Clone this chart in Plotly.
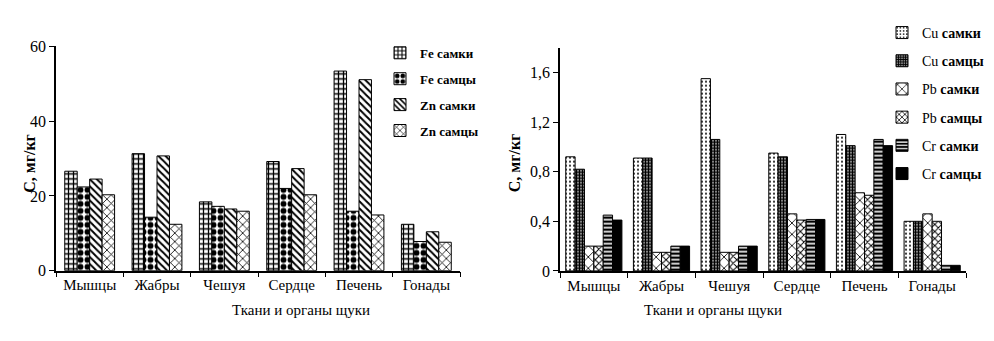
import plotly.graph_objects as go

categories = ["Мышцы", "Жабры", "Чешуя", "Сердце", "Печень", "Гонады"]

# Left chart (Fe, Zn), mg/kg
fe_f = [26.6, 31.3, 18.4, 29.2, 53.4, 12.4]
fe_m = [22.4, 14.3, 17.2, 22.0, 15.9, 7.8]
zn_f = [24.5, 30.7, 16.5, 27.3, 51.1, 10.4]
zn_m = [20.3, 12.4, 15.9, 20.3, 14.9, 7.6]

# Right chart (Cu, Pb, Cr), mg/kg
cu_f = [0.92, 0.91, 1.55, 0.95, 1.10, 0.40]
cu_m = [0.82, 0.91, 1.06, 0.92, 1.01, 0.40]
pb_f = [0.20, 0.15, 0.15, 0.46, 0.63, 0.46]
pb_m = [0.20, 0.15, 0.15, 0.41, 0.61, 0.40]
cr_f = [0.45, 0.20, 0.20, 0.415, 1.06, 0.045]
cr_m = [0.41, 0.20, 0.20, 0.415, 1.01, 0.045]

left_ticks = [0, 20, 40, 60]
right_tickvals = [0, 0.4, 0.8, 1.2, 1.6]
right_ticktext = ["0", "0,4", "0,8", "1,2", "1,6"]

FONT = "Liberation Serif"
W, H = 994, 341

fig = go.Figure()

def add_bar(name, vals, xa, ya, legend, group, shape, size, solidity, color="white",
            offset=None, width=None):
    marker = dict(color=color, line=dict(color="black", width=1))
    if shape is not None:
        marker["pattern"] = dict(shape=shape, size=size, solidity=solidity,
                                 fgcolor="black", bgcolor="white", fillmode="replace")
    kw = {}
    if offset is not None:
        kw = dict(offset=offset, width=width)
    fig.add_trace(go.Bar(x=categories, y=vals, name=name, xaxis=xa, yaxis=ya,
                         legend=legend, legendgroup=group, marker=marker, **kw))

add_bar("<b>Fe самки</b>", fe_f, "x", "y", "legend", "a1", "+", 5, 0.45)
add_bar("<b>Fe самцы</b>", fe_m, "x", "y", "legend", "a2", ".", 7, 0.55)
add_bar("<b>Zn самки</b>", zn_f, "x", "y", "legend", "a3", "\\", 5, 0.4)
add_bar("<b>Zn самцы</b>", zn_m, "x", "y", "legend", "a4", "x", 6, 0.25)

right_specs = [
    ("Cu <b>самки</b>", cu_f, "b1", ".", 4, 0.2, "white"),
    ("Cu <b>самцы</b>", cu_m, "b2", "+", 3, 0.8, "white"),
    ("Pb <b>самки</b>", pb_f, "b3", "x", 8, 0.2, "white"),
    ("Pb <b>самцы</b>", pb_m, "b4", "x", 5, 0.35, "white"),
    ("Cr <b>самки</b>", cr_f, "b5", "-", 4, 0.6, "white"),
    ("Cr <b>самцы</b>", cr_m, "b6", None, 0, 0, "black"),
]
n_right = len(right_specs)
group_w = 0.83
bw = group_w / n_right
for i, (nm, vals, grp, shp, sz, sol, col) in enumerate(right_specs):
    add_bar(nm, vals, "x2", "y2", "legend2", grp, shp, sz, sol, color=col,
            offset=-group_w / 2 + i * bw, width=bw)

def px_x(p):
    return p / W

def px_y(p):
    return 1 - p / H

xcommon = dict(type="category", showline=True, linecolor="black", linewidth=1.5,
               ticks="outside", tickson="boundaries", ticklen=5, tickcolor="black",
               showgrid=False, tickfont=dict(family=FONT, size=15, color="black"))
ycommon = dict(showline=True, linecolor="black", linewidth=1.5, ticks="outside",
               ticklen=5, tickcolor="black", showgrid=False, zeroline=False,
               tickfont=dict(family=FONT, size=16, color="black"))

fig.update_layout(
    width=W, height=H,
    margin=dict(l=0, r=0, t=0, b=0),
    paper_bgcolor="white", plot_bgcolor="white",
    font=dict(family=FONT, color="black"),
    barmode="group",
    bargap=0.26, bargroupgap=0,
    xaxis=dict(**xcommon, anchor="y", domain=[px_x(48), px_x(452)]),
    yaxis=dict(**ycommon, anchor="x", domain=[px_y(268), px_y(32)],
               range=[0, 60], tickvals=left_ticks),
    xaxis2=dict(**xcommon, anchor="y2", domain=[px_x(552), px_x(958)]),
    yaxis2=dict(**ycommon, anchor="x2", domain=[px_y(268.3), px_y(33.3)],
                range=[0, 1.8], tickvals=right_tickvals, ticktext=right_ticktext),
    legend=dict(x=px_x(372), y=px_y(23), xanchor="left", yanchor="top",
                font=dict(family=FONT, size=13, color="black"),
                bgcolor="rgba(0,0,0,0)", tracegroupgap=6, traceorder="grouped"),
    legend2=dict(x=px_x(874), y=px_y(1), xanchor="left", yanchor="top",
                 font=dict(family=FONT, size=14, color="black"),
                 bgcolor="rgba(0,0,0,0)", tracegroupgap=7, traceorder="grouped"),
    annotations=[
        dict(text="<b>С, мг/кг</b>", x=px_x(11), y=px_y(155), xref="paper", yref="paper",
             textangle=-90, showarrow=False, font=dict(family=FONT, size=16)),
        dict(text="<b>С, мг/кг</b>", x=px_x(506), y=px_y(155), xref="paper", yref="paper",
             textangle=-90, showarrow=False, font=dict(family=FONT, size=16)),
        dict(text="Ткани и органы щуки", x=px_x(222), y=px_y(320), xref="paper", yref="paper",
             showarrow=False, font=dict(family=FONT, size=15)),
        dict(text="Ткани и органы щуки", x=px_x(776), y=px_y(320), xref="paper", yref="paper",
             showarrow=False, font=dict(family=FONT, size=15)),
    ],
)

fig.write_html("out.html")
